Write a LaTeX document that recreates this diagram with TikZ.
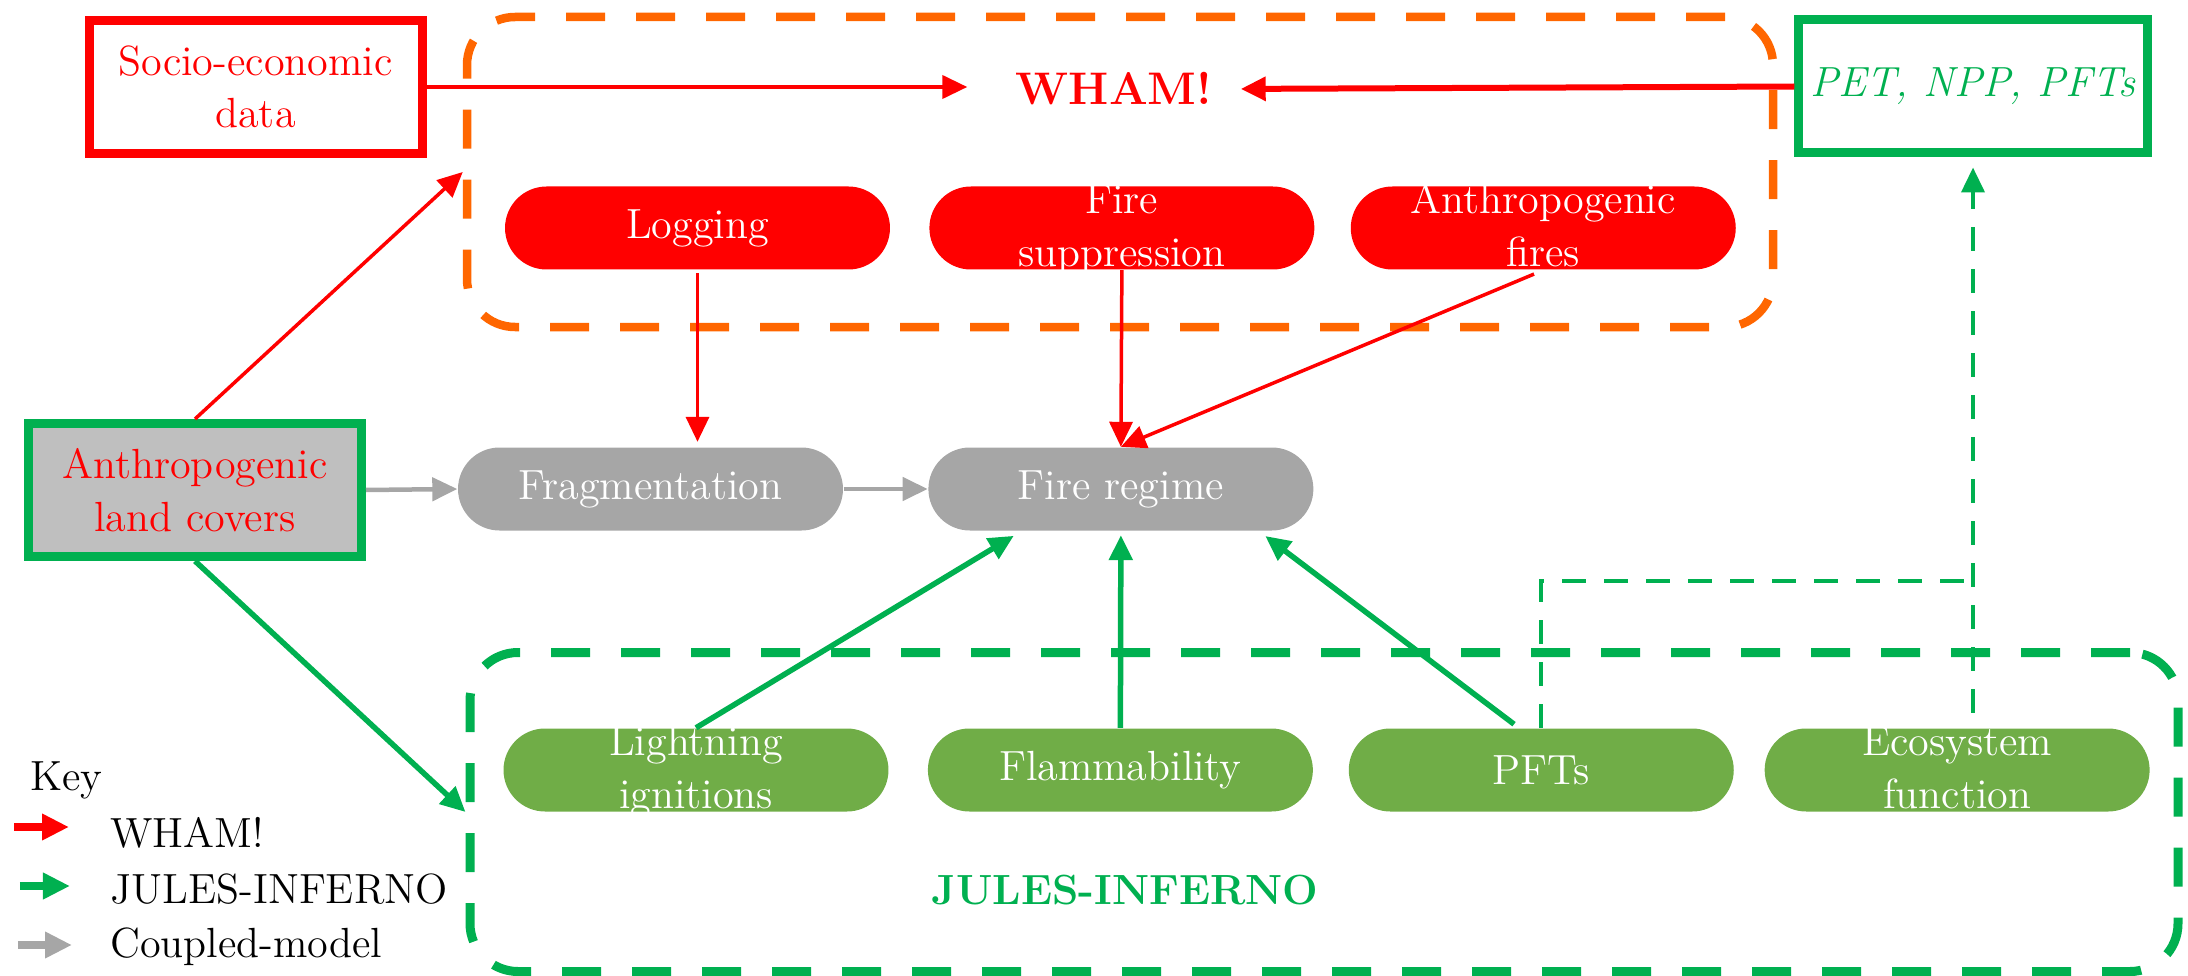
\documentclass[tikz,border=0pt]{standalone}
\usepackage{tikz}
\usetikzlibrary{positioning, arrows.meta, calc, shapes.misc}

\definecolor{whamred}{RGB}{255,0,0}
\definecolor{whamorange}{RGB}{255,102,0}
\definecolor{julesgreen}{RGB}{0,176,80}
\definecolor{leafgreen}{RGB}{112,173,71}
\definecolor{coupledgray}{RGB}{166,166,166}
\definecolor{coverfill}{RGB}{191,191,191}

\begin{document}
\begin{tikzpicture}[
  >={Triangle[length=0.25cm, width=0.23cm]},
  every node/.style={font=\fontsize{12}{15}\selectfont},
  pill/.style      = {rounded rectangle, align=center, text=white, inner sep=1pt, minimum width=3.92cm, minimum height=0.83cm},
  twoline/.style   = {inner ysep=0pt, text height=0.78cm, text depth=0.01cm},
  redpill/.style   = {pill, fill=whamred},
  graypill/.style  = {pill, fill=coupledgray},
  greenpill/.style = {pill, fill=leafgreen},
  inbox/.style     = {align=center, line width=0.09cm, minimum width=3.33cm, minimum height=1.33cm},
  modelframe/.style = {rounded corners=0.48cm, inner sep=0pt, line width=0.085cm, dash pattern=on 0.39cm off 0.31cm},
  redarr/.style    = {->, whamred, line width=0.035cm},
  grayarr/.style   = {->, coupledgray, line width=0.045cm},
  greenarr/.style  = {->, julesgreen, line width=0.055cm},
  feed/.style      = {julesgreen, line width=0.04cm, dash pattern=on 0.24cm off 0.18cm},
  keyarr/.style    = {->, line width=0.075cm, >={Triangle[length=0.27cm, width=0.25cm]}},
]
  \useasboundingbox (0,0) rectangle (21.88,-9.76);

  \node[modelframe, draw=whamorange, minimum width=13.06cm, minimum height=3.10cm] (whamframe) at (11.20,-1.72) {};
  \node[modelframe, draw=julesgreen, line width=0.09cm, minimum width=17.08cm, minimum height=3.19cm] (julesframe) at (13.24,-8.12) {};

  \node[redpill]                                   (logging)   at (6.975,-2.28) {Logging};
  \node[redpill, twoline, right=0.38cm of logging]  (suppress)  {Fire\\suppression};
  \node[redpill, twoline, right=0.35cm of suppress] (anthfires) {Anthropogenic\\fires};

  \node[graypill]                     (frag)   at (6.505,-4.89) {Fragmentation};
  \node[graypill, right=0.84cm of frag] (regime) {Fire regime};

  \node[greenpill, twoline]                    (lightning) at (6.96,-7.70) {Lightning\\ignitions};
  \node[greenpill, right=0.38cm of lightning]  (flamm)   {Flammability};
  \node[greenpill, right=0.345cm of flamm]     (pfts)    {PFTs};
  \node[greenpill, twoline, right=0.295cm of pfts] (ecofunc) {Ecosystem\\function};

  \node[inbox, draw=whamred, text=whamred]                   (socio)   at (2.555,-0.87) {Socio-economic\\data};
  \node[inbox, draw=julesgreen, text=julesgreen, font=\fontsize{12}{15}\selectfont\itshape] (pet) at (19.73,-0.865) {PET, NPP, PFTs};
  \node[inbox, draw=julesgreen, fill=coverfill, text=whamred] (landcov) at (1.95,-4.90) {Anthropogenic\\land covers};

  \node[text=whamred, font=\fontsize{13}{15}\selectfont\bfseries]    (wham)  at (11.14,-0.89) {WHAM!};
  \node[text=julesgreen, font=\fontsize{12}{15}\selectfont\bfseries] (jules) at (11.25,-8.90) {JULES-INFERNO};

  \node[anchor=west] (key)        at (0.18,-7.80) {Key};
  \node[anchor=west] (keywham)    at (0.98,-8.33) {WHAM!};
  \node[anchor=west] (keyjules)   at (0.98,-8.89) {JULES-INFERNO};
  \node[anchor=west] (keycoupled) at (0.98,-9.47) {Coupled-model};

  \draw[redarr, line width=0.04cm, shorten >=0.36cm] (socio.east) -- (socio.east -| wham.west);
  \draw[redarr, line width=0.06cm, shorten >=0.16cm] (pet.west) -- (wham.east);
  \draw[redarr] (landcov.north) -- (whamframe.west);
  \draw[redarr, shorten <=0.03cm, shorten >=0.05cm] (logging.south) -- (logging.south |- frag.north);
  \draw[redarr] (suppress.south) -- (regime.north);
  \draw[redarr, shorten <=0.1cm] (anthfires.south) -- (regime.north);

  \draw[grayarr] (landcov.east) -- (frag.west);
  \draw[grayarr] (frag.east) -- (regime.west);

  \draw[greenarr] (landcov.south) -- (julesframe.west);
  \draw[greenarr, shorten >=0.09cm] (lightning.north) -- (regime.-157);
  \draw[greenarr, shorten >=0.04cm] (flamm.north) -- (regime.south);
  \draw[greenarr, shorten <=0.06cm, shorten >=0.08cm] (pfts.118) -- (regime.-17);

  \coordinate (pftjoin) at ($(pfts.north)+(0,1.47)$);
  \draw[feed] (pfts.north) |- (pftjoin -| pet.south);
  \draw[feed, ->, shorten <=0.15cm, shorten >=0.1cm] (ecofunc.north -| pet.south) -- (pet.south);

  \draw[keyarr, whamred]     ([xshift=-0.84cm, yshift=0.06cm]keywham.west)    -- ([xshift=-0.29cm, yshift=0.06cm]keywham.west);
  \draw[keyarr, julesgreen]  ([xshift=-0.78cm, yshift=0.03cm]keyjules.west)   -- ([xshift=-0.28cm, yshift=0.03cm]keyjules.west);
  \draw[keyarr, coupledgray] ([xshift=-0.80cm, yshift=0.02cm]keycoupled.west) -- ([xshift=-0.26cm, yshift=0.02cm]keycoupled.west);
\end{tikzpicture}
\end{document}
